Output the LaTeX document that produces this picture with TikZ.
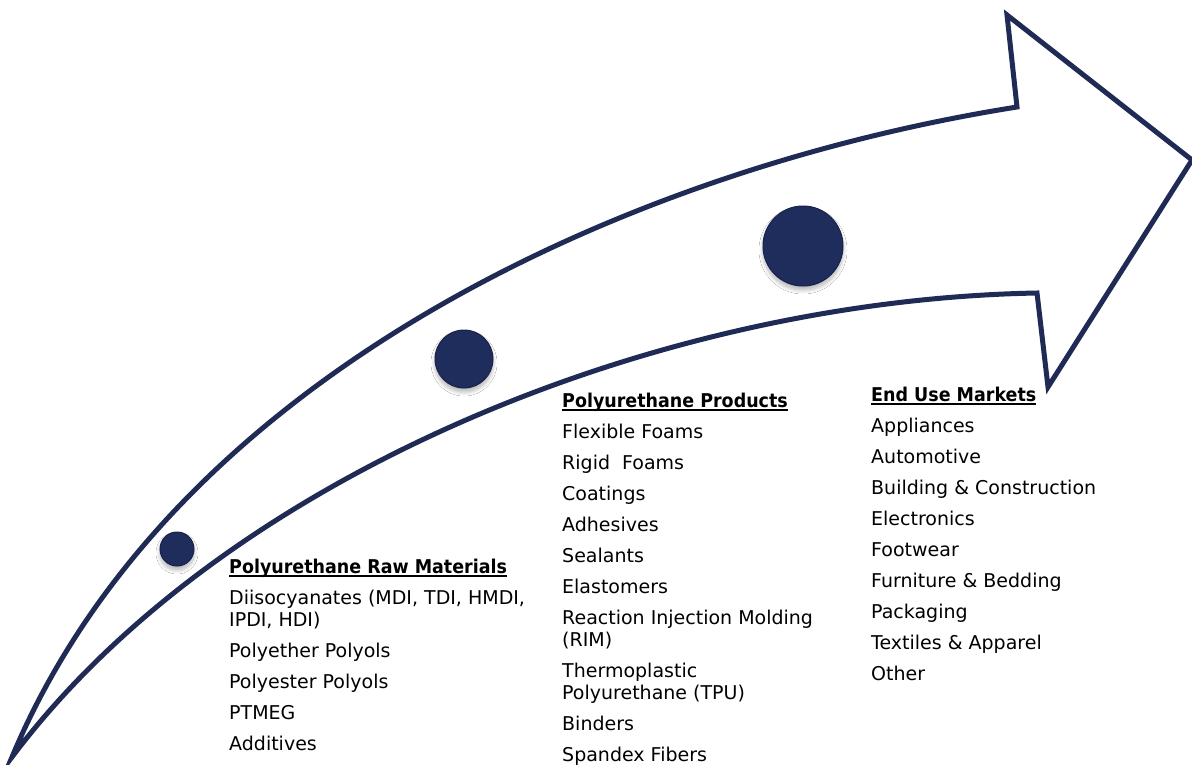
\documentclass[tikz,border=0pt]{standalone}
\usepackage{fontspec}
\setmainfont{DejaVu Sans}
\usetikzlibrary{shadows.blur}
\definecolor{navy}{HTML}{1F2B55}
\definecolor{ballc}{HTML}{1F2D5C}
\definecolor{balledge}{HTML}{17224A}
\tikzset{
  arrowline/.style={draw=navy, line width=5pt, line join=miter, fill=white},
  ball/.style={circle, fill=ballc, draw=balledge, line width=1pt, inner sep=0pt,
    blur shadow={shadow xshift=0pt, shadow yshift=-4pt, shadow opacity=30,
      shadow blur steps=10, shadow blur radius=4pt}},
  item/.style={anchor=base west, inner sep=0pt, font=\fontsize{19}{22}\selectfont, text=black},
  head/.style={item, font=\fontsize{19}{22}\selectfont\bfseries},
}
\newcommand{\hd}[1]{\setbox0\hbox{\scalebox{0.92}[1]{#1}}\rlap{\rule[-3.5pt]{\wd0}{1.8pt}}\box0}
\begin{document}
\begin{tikzpicture}[x=1pt,y=-1pt]
\useasboundingbox (0,0) rectangle (1192,764);
\clip (0,0) rectangle (1192,764);
% arrow
\coordinate (tail) at (12,757);
\coordinate (nu) at (1017,107);
\coordinate (hu) at (1007,15);
\coordinate (tip) at (1192,160);
\coordinate (hl) at (1048,387);
\coordinate (nl) at (1037,293);
\path[arrowline] (tail) .. controls (170,380) and (620,170) .. (nu) -- (hu) -- (tip) -- (hl) -- (nl)
  .. controls (650,300) and (220,480) .. (tail) -- cycle;
% balls
\node[ball, minimum size=34pt] (b1) at (177,549) {};
\node[ball, minimum size=58pt] (b2) at (464,359) {};
\node[ball, minimum size=80pt] (b3) at (803,246) {};
% column 1
\node[head] (h1) at (229,573) {\hd{Polyurethane Raw Materials}};
\node[item] (a1) at (229,604) {Diisocyanates (MDI, TDI, HMDI,};
\node[item] (a1b) at (229,626) {IPDI, HDI)};
\node[item] (a2) at (229,657) {Polyether Polyols};
\node[item] (a3) at (229,688) {Polyester Polyols};
\node[item] (a4) at (229,719) {PTMEG};
\node[item] (a5) at (229,750) {Additives};
% column 2
\node[head] (h2) at (562,407) {\hd{Polyurethane Products}};
\node[item] (p1) at (562,438) {Flexible Foams};
\node[item] (p2) at (562,469) {Rigid\ \ Foams};
\node[item] (p3) at (562,500) {Coatings};
\node[item] (p4) at (562,531) {Adhesives};
\node[item] (p5) at (562,562) {Sealants};
\node[item] (p6) at (562,593) {Elastomers};
\node[item] (p7) at (562,624) {Reaction Injection Molding};
\node[item] (p7b) at (562,646) {(RIM)};
\node[item] (p8) at (562,677) {Thermoplastic};
\node[item] (p8b) at (562,699) {Polyurethane (TPU)};
\node[item] (p9) at (562,730) {Binders};
\node[item] (p10) at (562,761) {Spandex Fibers};
% column 3
\node[head] (h3) at (871,401) {\hd{End Use Markets}};
\node[item] (m1) at (871,432) {Appliances};
\node[item] (m2) at (871,463) {Automotive};
\node[item] (m3) at (871,494) {Building \& Construction};
\node[item] (m4) at (871,525) {Electronics};
\node[item] (m5) at (871,556) {Footwear};
\node[item] (m6) at (871,587) {Furniture \& Bedding};
\node[item] (m7) at (871,618) {Packaging};
\node[item] (m8) at (871,649) {Textiles \& Apparel};
\node[item] (m9) at (871,680) {Other};
\end{tikzpicture}
\end{document}
